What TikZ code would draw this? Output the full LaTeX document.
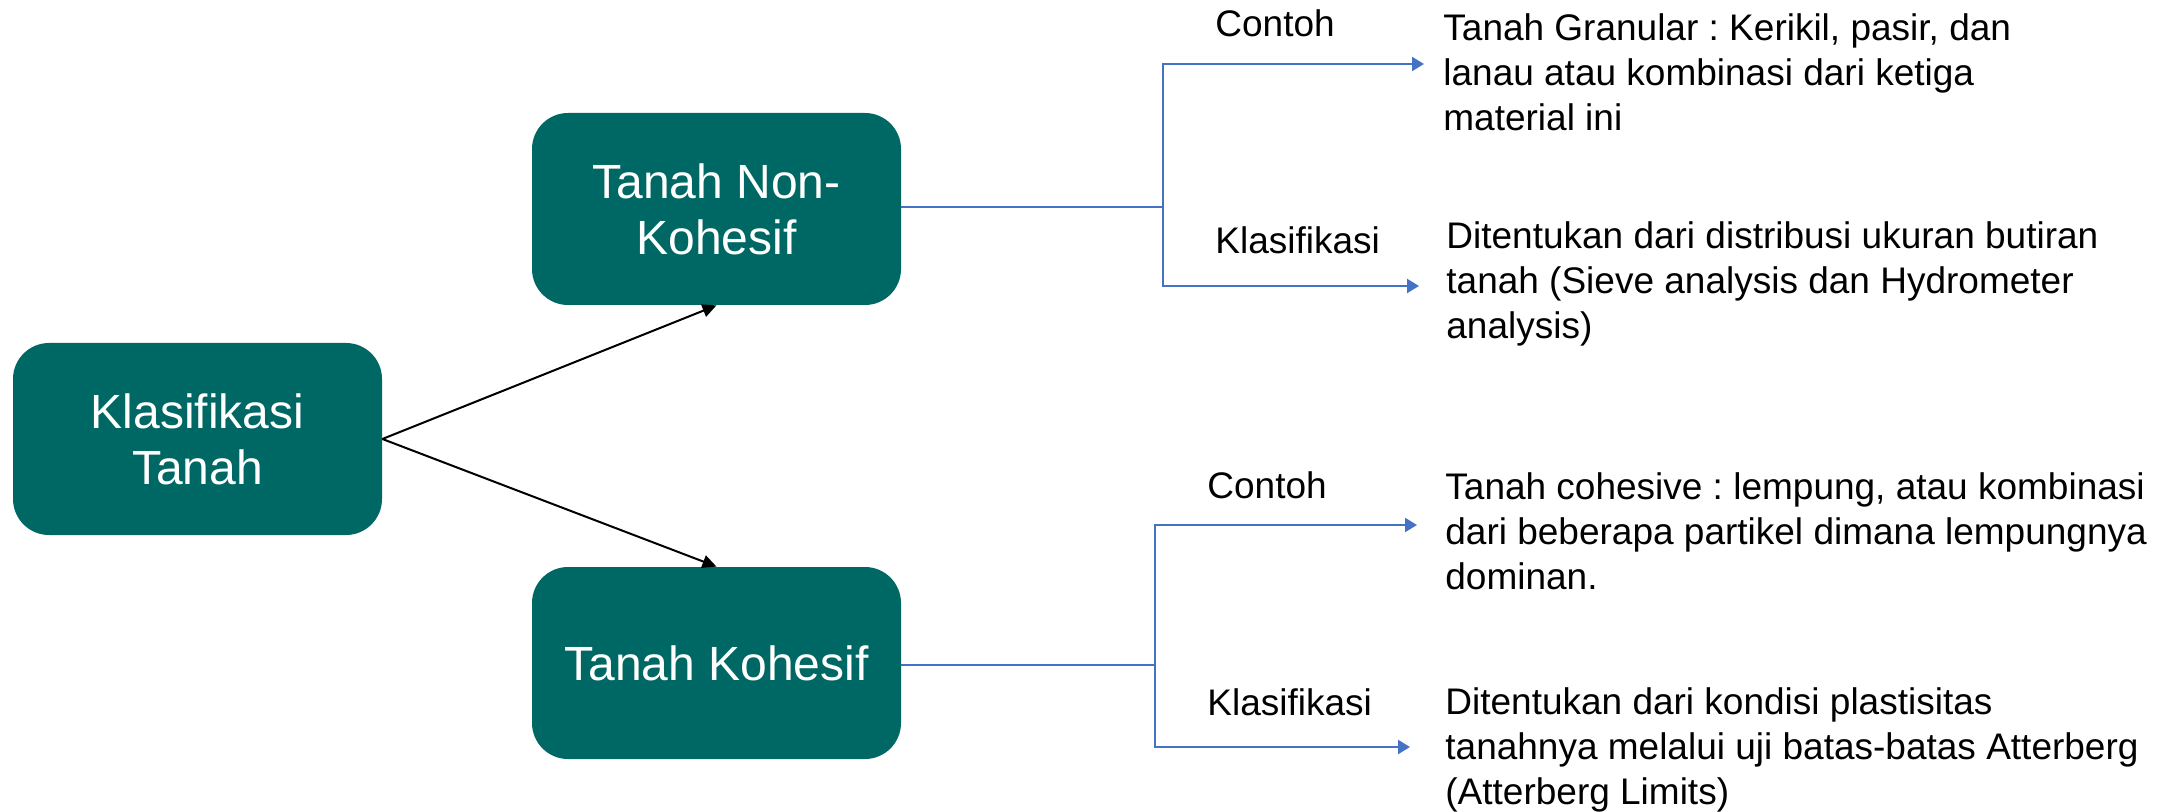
\documentclass[tikz,border=0pt]{standalone}
\usepackage{fontspec}
\setmainfont{Liberation Sans}
\usetikzlibrary{positioning,arrows.meta}
\definecolor{tealbox}{RGB}{0,104,100}
\definecolor{linkblue}{RGB}{68,114,196}
\frenchspacing

\begin{document}
\begin{tikzpicture}[
x=0.5pt, 
y=-0.5pt, 
box/.style={fill=tealbox, rounded corners=18pt, text=white, align=center, inner sep=0pt, 
  minimum width=184.5pt, minimum height=96pt, font=\fontsize{24}{28}\selectfont}, 
tag/.style={anchor=west, inner sep=0pt, font=\fontsize{18.5}{22.5}\selectfont}, 
note/.style={anchor=west, align=left, inner sep=0pt, font=\fontsize{18.5}{22.5}\selectfont}, 
arr/.style={line width=1pt, -{Triangle[length=7pt,width=6.5pt]}}, 
link/.style={draw=linkblue, line width=1.1pt, -{Triangle[length=6pt,width=7pt]}}]
\useasboundingbox (0,0) rectangle (2177,812);
\node[box] (klas) at (197.5,439) {Klasifikasi\\Tanah};
\node[box] (nonkoh) at (716.5,209) {Tanah Non-\\Kohesif};
\node[box] (koh) at (716.5,663) {Tanah Kohesif};
\draw[arr] (klas.east) -- (nonkoh.south);
\draw[arr] (klas.east) -- (koh.north);
% non-kohesif
\coordinate (nfork) at (1163,207);
\coordinate (nend1) at (1424,64);
\coordinate (nend2) at (1419,286);
\draw[link] (nonkoh.east |- nfork) -- (nfork) |- (nend1);
\draw[link] (nfork) |- (nend2);
\node[tag] (ncontoh) at (1215,23) {Contoh};
\node[tag] (nklas) at (1215,240) {Klasifikasi};
\node[note] (nnote1) at (1443,72) {Tanah Granular : Kerikil, pasir, dan\\lanau atau kombinasi dari ketiga\\material ini};
\node[note] (nnote2) at (1446,284) {Ditentukan dari distribusi ukuran butiran\\tanah (Sieve analysis dan Hydrometer\\analysis)};
% kohesif
\coordinate (kfork) at (1155,665);
\coordinate (kend1) at (1417,525);
\coordinate (kend2) at (1410,747);
\draw[link] (koh.east |- kfork) -- (kfork) |- (kend1);
\draw[link] (kfork) |- (kend2);
\node[tag] (kcontoh) at (1207,485) {Contoh};
\node[tag] (kklas) at (1207,702) {Klasifikasi};
\node[note] (knote1) at (1445,531) {Tanah cohesive : lempung, atau kombinasi\\dari beberapa partikel dimana lempungnya\\dominan.};
\node[note] (knote2) at (1445,750) {Ditentukan dari kondisi plastisitas\\tanahnya melalui uji batas-batas Atterberg\\(Atterberg Limits)};
\end{tikzpicture}
\end{document}
